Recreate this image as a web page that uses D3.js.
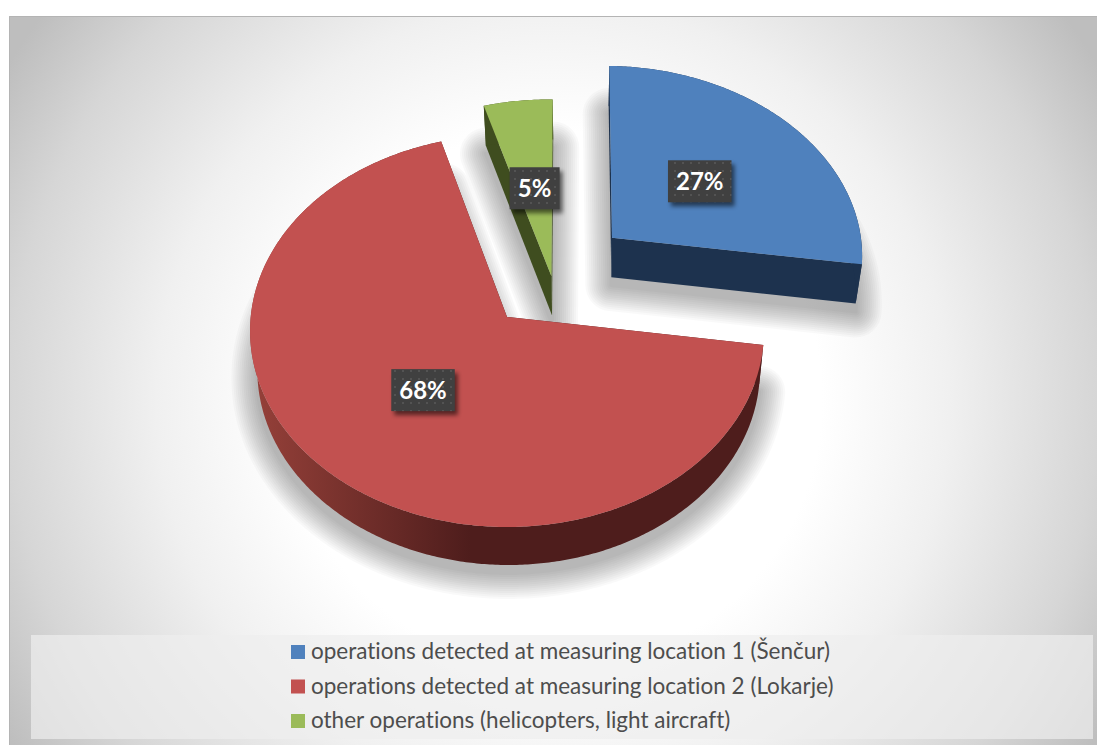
<!DOCTYPE html>
<html>
<head>
<meta charset="utf-8">
<script src="https://cdn.jsdelivr.net/npm/d3@7"></script>
<style>
  html, body { margin: 0; padding: 0; background: #fff; }
  svg { display: block; }
  text { font-variant-ligatures: none; }
</style>
</head>
<body>
<svg id="chart" width="1097" height="745"></svg>
<script>
// data (labels show the rounded values)
var categories = [
  'operations detected at measuring location 1 (Šenčur)',
  'operations detected at measuring location 2 (Lokarje)',
  'other operations (helicopters, light aircraft)'
];
var shares = [27, 68.3, 4.7];

var topColors = ['#4f81bd', '#c25150', '#9bbb59'];
var sideColors = ['#1d324e', '#4e1d1c', '#3f4d1f'];

// how far each slice is pulled out, in pie radius units, measured from the red one
var explodeX = [0.422, 0, 0.176];
var explodeY = [0.418, 0, 0.212];

var W = 1097, H = 745;
var svg = d3.select('#chart');
var defs = svg.append('defs');

// tilted disc: simple perspective on the pie plane
var originX = 507, originY = 317, scaleX = 256.3, scaleY = 195, persp = 0.0714;
var depth = 40;

function project(u, v) {
  var d = 1 + persp * v;
  return [originX + scaleX * u / d, originY - scaleY * v / d];
}
// same point on the lower face of the pie
function lower(p) {
  return [p[0] - (p[0] - 580) * 0.022, p[1] + depth - (p[1] - 100) * 0.0047];
}

var pie = d3.pie().sort(null).startAngle(Math.PI / 180).endAngle(Math.PI / 180 + 2 * Math.PI);
var slices = pie(shares);

function rimPoints(s, i) {
  var n = Math.ceil((s.endAngle - s.startAngle) / 0.01);
  return d3.range(n + 1).map(function(k) {
    var a = s.startAngle + (s.endAngle - s.startAngle) * k / n;
    return project(explodeX[i] + Math.sin(a), explodeY[i] + Math.cos(a));
  });
}

var line = d3.line().curve(d3.curveLinearClosed);

// background
var bg = defs.append('radialGradient').attr('id', 'bg')
  .attr('gradientUnits', 'userSpaceOnUse')
  .attr('cx', 553).attr('cy', 400).attr('r', 640);
[[0, '#ffffff'], [0.42, '#ffffff'], [0.62, '#f0f0f0'], [0.85, '#d6d6d6'], [1, '#bebebe']].forEach(function(d) {
  bg.append('stop').attr('offset', d[0]).attr('stop-color', d[1]);
});
svg.append('rect').attr('x', 9).attr('y', 16).attr('width', W - 9).attr('height', H - 16)
  .attr('fill', 'url(#bg)');
svg.append('path').attr('d', 'M9.5,745V16.5H1097').attr('fill', 'none').attr('stroke', '#b4b4b4').attr('stroke-width', 1);

var labelShadow = defs.append('filter').attr('id', 'labelShadow')
  .attr('x', '-30%').attr('y', '-30%').attr('width', '160%').attr('height', '170%');
labelShadow.append('feGaussianBlur').attr('stdDeviation', 2.2);

// red side goes lighter toward the left
var redSide = defs.append('linearGradient').attr('id', 'redSide')
  .attr('gradientUnits', 'userSpaceOnUse')
  .attr('x1', 255).attr('x2', 470).attr('y1', 0).attr('y2', 0);
redSide.append('stop').attr('offset', 0).attr('stop-color', '#954039');
redSide.append('stop').attr('offset', 1).attr('stop-color', sideColors[1]);

var dots = defs.append('pattern').attr('id', 'dots').attr('patternUnits', 'userSpaceOnUse')
  .attr('width', 8).attr('height', 8);
dots.append('rect').attr('width', 8).attr('height', 8).attr('fill', '#404040');
dots.append('rect').attr('x', 2).attr('y', 2).attr('width', 2).attr('height', 2).attr('fill', '#535353');

var order = [1, 2, 0];

// soft shadows: stacked strokes, widest first, under all the slices
order.forEach(function(i) {
  var s = slices[i];
  var apex = project(explodeX[i], explodeY[i]);
  var rim = rimPoints(s, i);
  var outline = [apex].concat(rim).map(lower);
  var d = line(outline.map(function(p) { return [p[0], p[1] + 8]; }));
  d3.range(52, 0, -4).forEach(function(w) {
    svg.append('path')
      .attr('d', d)
      .attr('fill', '#000').attr('stroke', '#000')
      .attr('opacity', 0.021)
      .attr('stroke-width', w).attr('stroke-linejoin', 'round');
  });
});

order.forEach(function(i) {
  var s = slices[i];
  var apex = project(explodeX[i], explodeY[i]);
  var rim = rimPoints(s, i);
  var side = i === 1 ? 'url(#redSide)' : sideColors[i];
  var g = svg.append('g').attr('class', 'slice');

  // walls: both cut faces and the outer rim
  var faces = [[apex, rim[0]], [apex, rim[rim.length - 1]]];
  faces.forEach(function(f) {
    g.append('path').attr('d', line([f[0], f[1], lower(f[1]), lower(f[0])])).attr('fill', side);
  });
  g.append('path')
    .attr('d', line(rim.concat(rim.map(lower).reverse())))
    .attr('fill', side);

  g.append('path')
    .attr('d', line([apex].concat(rim)))
    .attr('fill', topColors[i]);
});

// data labels
order.forEach(function(i) {
  var s = slices[i];
  var mid = (s.startAngle + s.endAngle) / 2;
  var c = project(explodeX[i] + 0.485 * Math.sin(mid), explodeY[i] + 0.485 * Math.cos(mid));
  var txt = Math.round(shares[i]) + '%';
  var w = txt.length === 2 ? 50 : 63.5;
  var h = 42;
  svg.append('rect').attr('x', c[0] - w / 2 + 3).attr('y', c[1] - h / 2 + 4)
    .attr('width', w).attr('height', h).attr('fill', '#000').attr('opacity', 0.55)
    .attr('filter', 'url(#labelShadow)');
  svg.append('rect').attr('x', c[0] - w / 2).attr('y', c[1] - h / 2)
    .attr('width', w).attr('height', h).attr('fill', 'url(#dots)');
  svg.append('text').attr('x', c[0]).attr('y', c[1] + 9)
    .attr('text-anchor', 'middle')
    .attr('font-family', 'Lato, sans-serif').attr('font-weight', 700).attr('font-size', 24)
    .attr('fill', '#fff').text(txt);
});

// legend
svg.append('rect').attr('x', 31).attr('y', 635).attr('width', 1062).attr('height', 104)
  .attr('fill', '#eeeeee').attr('opacity', 0.7);

var legendY = d3.scalePoint().domain(d3.range(categories.length)).range([652, 721]);
var legend = svg.selectAll('g.legend').data(categories).enter().append('g').attr('class', 'legend')
  .attr('transform', function(d, i) { return 'translate(291,' + legendY(i) + ')'; });
legend.append('rect').attr('x', 0).attr('y', -7).attr('width', 14).attr('height', 14)
  .attr('fill', function(d, i) { return topColors[i]; });
legend.append('text').attr('x', 20).attr('y', 7)
  .attr('font-family', 'Lato, sans-serif').attr('font-size', 22.5).attr('fill', '#4d4d4d')
  .text(function(d) { return d; });
</script>
</body>
</html>
